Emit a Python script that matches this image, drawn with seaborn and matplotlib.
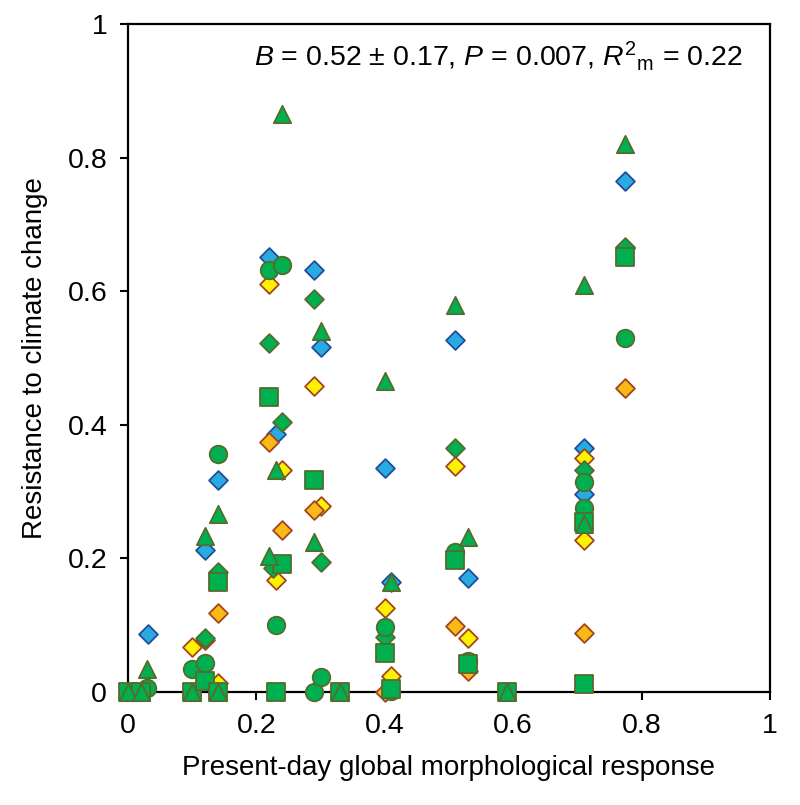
import matplotlib
matplotlib.use("Agg")
import matplotlib.pyplot as plt
import seaborn as sns

# --- data: one (x, y) list per marker series ---
blue_x = [0.031, 0.12, 0.14, 0.22, 0.23, 0.29, 0.30, 0.40, 0.41, 0.51, 0.53, 0.71, 0.71, 0.774]
blue_y = [0.087, 0.212, 0.318, 0.651, 0.387, 0.632, 0.517, 0.336, 0.164, 0.527, 0.170, 0.365, 0.297, 0.765]

yellow_x = [0.10, 0.12, 0.14, 0.22, 0.24, 0.23, 0.30, 0.29, 0.40, 0.41, 0.51, 0.53, 0.71, 0.71, 0.774]
yellow_y = [0.068, 0.078, 0.013, 0.611, 0.333, 0.167, 0.278, 0.458, 0.126, 0.024, 0.338, 0.081, 0.351, 0.227, 0.665]

orange_x = [0.14, 0.22, 0.24, 0.29, 0.40, 0.51, 0.53, 0.71, 0.774]
orange_y = [0.118, 0.374, 0.243, 0.273, 0.0, 0.099, 0.032, 0.089, 0.455]

gdiam_x = [0.12, 0.14, 0.22, 0.226, 0.24, 0.29, 0.30, 0.40, 0.51, 0.71, 0.774]
gdiam_y = [0.081, 0.180, 0.522, 0.185, 0.405, 0.589, 0.195, 0.083, 0.366, 0.333, 0.667]

circle_x = [0.03, 0.10, 0.12, 0.14, 0.22, 0.24, 0.23, 0.29, 0.30, 0.40, 0.41, 0.51, 0.53, 0.71, 0.71, 0.774]
circle_y = [0.006, 0.034, 0.044, 0.357, 0.632, 0.639, 0.100, 0.0, 0.023, 0.098, 0.002, 0.209, 0.047, 0.314, 0.275, 0.530]

square_x = [0.0, 0.02, 0.10, 0.12, 0.14, 0.14, 0.22, 0.23, 0.24, 0.29, 0.33, 0.40, 0.41, 0.51, 0.53, 0.59, 0.71, 0.71, 0.774]
square_y = [0.0, 0.0, 0.0, 0.016, 0.164, 0.0, 0.441, 0.0, 0.192, 0.318, 0.0, 0.059, 0.005, 0.197, 0.042, 0.0, 0.254, 0.012, 0.652]

tri_x = [0.0, 0.02, 0.03, 0.10, 0.12, 0.14, 0.14, 0.22, 0.23, 0.24, 0.29, 0.30, 0.33, 0.40, 0.41, 0.51, 0.53, 0.59, 0.71, 0.71, 0.774]
tri_y = [0.0, 0.0, 0.035, 0.0, 0.234, 0.267, 0.0, 0.203, 0.332, 0.866, 0.225, 0.540, 0.0, 0.466, 0.165, 0.580, 0.232, 0.0, 0.610, 0.252, 0.820]

ticks = [0, 0.2, 0.4, 0.6, 0.8, 1]
tick_labels = ["0", "0.2", "0.4", "0.6", "0.8", "1"]

sns.set_theme(style="ticks")
plt.rcParams["font.family"] = ["Liberation Sans", "DejaVu Sans"]
plt.rcParams["mathtext.fontset"] = "custom"
plt.rcParams["mathtext.rm"] = "Liberation Sans"
plt.rcParams["mathtext.it"] = "Liberation Sans:italic"
plt.rcParams["text.color"] = "black"
plt.rcParams["axes.labelcolor"] = "black"
plt.rcParams["xtick.color"] = "black"
plt.rcParams["ytick.color"] = "black"

GREEN = "#00b050"
GREEN_EDGE = "#566b2c"
series = [
    (blue_x, blue_y, "D", 92, "#29abe2", "#1f4e9a"),
    (yellow_x, yellow_y, "D", 92, "#fff200", "#a0461e"),
    (orange_x, orange_y, "D", 92, "#fbb917", "#a0461e"),
    (gdiam_x, gdiam_y, "D", 92, GREEN, GREEN_EDGE),
    (circle_x, circle_y, "o", 160, GREEN, GREEN_EDGE),
    (square_x, square_y, "s", 155, GREEN, GREEN_EDGE),
    (tri_x, tri_y, "^", 155, GREEN, GREEN_EDGE),
]

fig = plt.figure(figsize=(8, 8.05), dpi=100)
ax = fig.add_axes([0.16, 0.1404, 0.8025, 0.8296])

for xs, ys, mk, size, fc, ec in series:
    sns.scatterplot(x=xs, y=ys, marker=mk, s=size, color=fc, edgecolor=ec,
                    linewidth=1.3, clip_on=False, zorder=3, ax=ax)

ax.set_xlim(0, 1)
ax.set_ylim(0, 1)
ax.set_xticks(ticks)
ax.set_xticklabels(tick_labels)
ax.set_yticks(ticks)
ax.set_yticklabels(tick_labels)
ax.tick_params(direction="out", length=6, width=1.5, labelsize=20.5, pad=9)
for sp in ax.spines.values():
    sp.set_linewidth(1.6)
    sp.set_color("black")

ax.set_xlabel("Present-day global morphological response", fontsize=20, labelpad=12)
ax.set_ylabel("Resistance to climate change", fontsize=20, labelpad=14)

ax.text(0.958, 0.952,
        r"$\it{B}$ = 0.52 ± 0.17, $\it{P}$ = 0.007, $\it{R}^{2}{}_{\mathrm{m}}$ = 0.22",
        ha="right", va="center", fontsize=20.5, transform=ax.transData)

fig.savefig("out.png", dpi=100)
